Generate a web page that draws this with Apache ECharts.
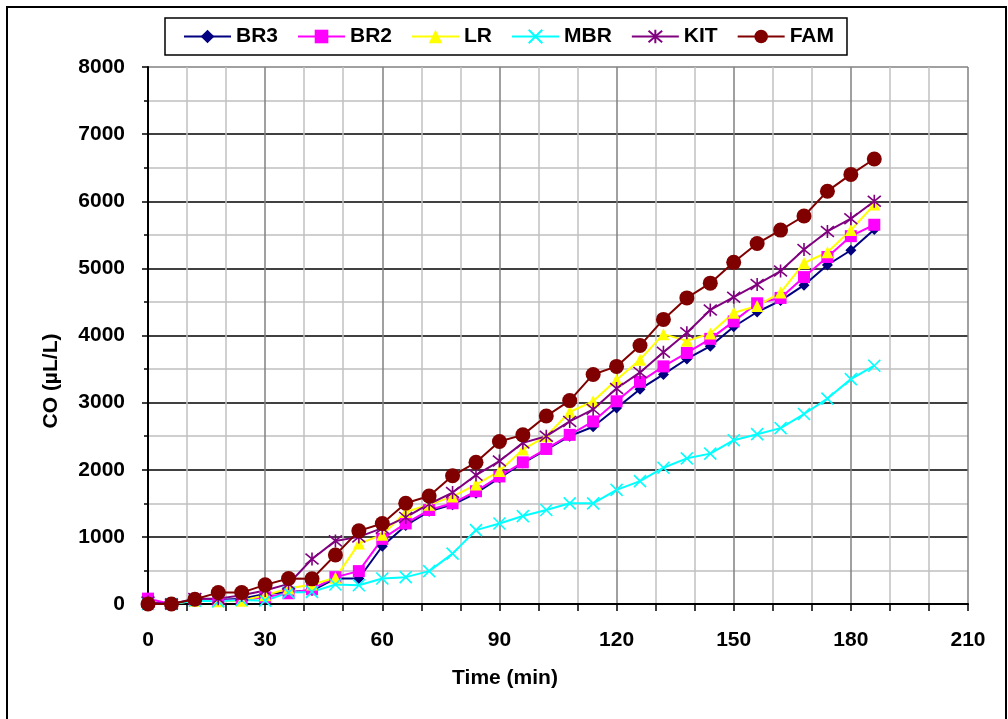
<!DOCTYPE html>
<html>
<head>
<meta charset="utf-8">
<script src="https://cdn.jsdelivr.net/npm/echarts@6/dist/echarts.min.js"></script>
<style>
html,body{margin:0;padding:0;background:#fff;}
#c{width:1008px;height:719px;}
</style>
</head>
<body>
<div id="c"></div>
<script>
const times = [0,6,12,18,24,30,36,42,48,54,60,66,72,78,84,90,96,102,108,114,120,126,132,138,144,150,156,162,168,174,180,186];
const br3 = [0,0,50,60,80,150,180,200,380,380,860,1170,1380,1480,1650,1880,2100,2300,2500,2640,2920,3200,3420,3650,3840,4130,4350,4520,4750,5050,5270,5580];
const br2 = [80,0,60,50,60,100,160,220,400,490,970,1200,1400,1500,1680,1900,2110,2310,2520,2720,3020,3310,3540,3740,3950,4210,4480,4560,4870,5170,5480,5650];
const lr  = [0,0,50,40,50,130,230,290,390,900,1030,1370,1480,1600,1780,1980,2300,2500,2860,3020,3340,3640,4020,3920,4030,4340,4440,4640,5080,5240,5570,5950];
const mbr = [0,0,50,40,60,50,170,180,290,280,380,400,490,750,1100,1200,1310,1400,1500,1500,1700,1830,2030,2170,2240,2440,2530,2620,2830,3060,3350,3550];
const kit = [30,0,80,80,130,200,300,670,940,1000,1130,1290,1490,1660,1920,2130,2400,2500,2720,2900,3210,3450,3750,4040,4380,4570,4760,4960,5280,5550,5740,6000];
const fam = [0,0,70,170,170,285,380,375,730,1090,1200,1500,1610,1910,2110,2420,2520,2800,3030,3420,3540,3850,4240,4560,4780,5090,5370,5570,5780,6150,6400,6630];

const seriesNames = ['BR3','BR2','LR','MBR','KIT','FAM'];
const seriesData = [br3, br2, lr, mbr, kit, fam];
const xTitle = 'Time (min)';
const yTitle = 'CO (\u00B5L/L)';

const FONT = '"Liberation Sans", Arial, sans-serif';
const styles = [
  {color:'#000080', symbol:'diamond', size:11, bw:0},
  {color:'#FF00FF', symbol:'rect', size:12, bw:0},
  {color:'#FFFF00', symbol:'triangle', size:12, bw:0},
  {color:'#00FFFF', symbol:'path://M0 0L10 10M10 0L0 10', size:12, bw:1.6},
  {color:'#800080', symbol:'path://M0 0L10 10M10 0L0 10M5 -1L5 11', size:13, bw:1.6},
  {color:'#800000', symbol:'circle', size:15, bw:0}
];

const series = seriesNames.map((n,i)=>({
  name:n,
  type:'line',
  data: times.map((t,j)=>[t, seriesData[i][j]]),
  symbol: styles[i].symbol,
  symbolSize: styles[i].size,
  showAllSymbol: true,
  animation:false,
  lineStyle:{color:styles[i].color, width:2},
  itemStyle:{color: styles[i].bw ? 'rgba(0,0,0,0)' : styles[i].color, borderColor:styles[i].color, borderWidth:styles[i].bw, opacity:1},
  emphasis:{disabled:true}
}));

const chart = echarts.init(document.getElementById('c'), null, {renderer:'canvas'});
const yColors = ['#000','#000','#000','#000','#000','#000','#000','#000','#808080'];
chart.setOption({
  animation:false,
  backgroundColor:'#fff',
  grid:{left:148, right:40, top:67, bottom:115, containLabel:false},
  legend:{
    data:seriesNames,
    left:165, top:18,
    orient:'horizontal',
    itemWidth:47, itemHeight:17, itemGap:19,
    padding:[8,13,8,18],
    borderColor:'#000', borderWidth:1.5,
    textStyle:{fontFamily:FONT, fontSize:21, fontWeight:'bold', color:'#000'}
  },
  xAxis:{
    type:'value', min:0, max:210, interval:10,
    axisLine:{show:true, onZero:false, lineStyle:{color:'#000', width:2}},
    axisTick:{show:true, length:7, lineStyle:{color:'#000', width:1.5}},
    axisLabel:{margin:26, fontFamily:FONT, fontSize:21, fontWeight:'bold', color:'#000',
      formatter:v=> (v%30===0 ? String(v) : '')},
    splitLine:{show:true, lineStyle:{color:['#808080','#c0c0c0','#c0c0c0'], width:1.5}}
  },
  yAxis:{
    type:'value', min:0, max:8000, interval:1000,
    axisLine:{show:true, lineStyle:{color:'#000', width:2}},
    axisTick:{show:true, length:6, lineStyle:{color:'#000', width:1.5}},
    minorTick:{show:true, splitNumber:2, length:4, lineStyle:{color:'#000', width:1.5}},
    minorSplitLine:{show:true, lineStyle:{color:'#c0c0c0', width:1.5}},
    axisLabel:{margin:23, fontFamily:FONT, fontSize:21, fontWeight:'bold', color:'#000',
      formatter:v=>String(v)},
    splitLine:{show:true, lineStyle:{color:yColors, width:1.5}}
  },
  graphic:[
    {type:'rect', shape:{x:7, y:7, width:999, height:760}, style:{fill:'none', stroke:'#000', lineWidth:2}, silent:true, z:-10},
    {type:'text', x:505, y:678, style:{text:xTitle, fontFamily:FONT, fontSize:21, fontWeight:'bold', fill:'#000', align:'center', verticalAlign:'middle'}},
    {type:'text', x:51, y:381, rotation:Math.PI/2, style:{text:yTitle, fontFamily:FONT, fontSize:21, fontWeight:'bold', fill:'#000', align:'center', verticalAlign:'middle'}}
  ],
  series: series
});
</script>
</body>
</html>
